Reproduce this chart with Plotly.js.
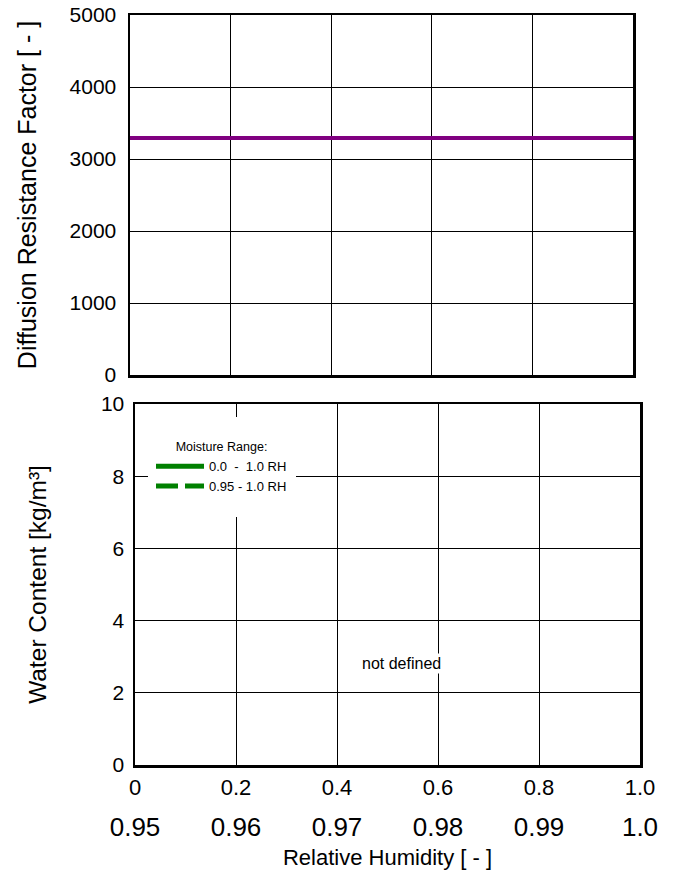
<!DOCTYPE html>
<html>
<head>
<meta charset="utf-8">
<script src="https://cdn.plot.ly/plotly-3.0.1.min.js"></script>
<style>html,body{margin:0;padding:0;background:#fff;}#chart{width:673px;height:876px;}</style>
</head>
<body>
<div id="chart"></div>
<script>
// Top panel: diffusion resistance factor vs relative humidity
var rhTop = [0, 1];
var muValues = [3290, 3290];
// Bottom panel: water content (not defined -> no data points)
var wcRH = [null];
var wcValues = [null];
var wcRH95 = [null];
var wcValues95 = [null];
var seriesNames = ['0.0  -  1.0 RH', '0.95 - 1.0 RH'];
// Tick labels
var muTicks = [0, 1000, 2000, 3000, 4000, 5000];
var wcTicks = [0, 2, 4, 6, 8, 10];
var rhTickVals = [0, 0.2, 0.4, 0.6, 0.8, 1.0];
var rhTickText = ['0', '0.2', '0.4', '0.6', '0.8', '1.0'];
var rh95TickVals = [0.95, 0.96, 0.97, 0.98, 0.99, 1.0];
var rh95TickText = ['0.95', '0.96', '0.97', '0.98', '0.99', '1.0'];

var W = 673, H = 876;
function px(x){return x/W;}
function py(y){return 1 - y/H;}
var FONT = 'Liberation Sans, Arial, sans-serif';

var traces = [
  {x: rhTop, y: muValues, xaxis: 'x', yaxis: 'y', mode: 'lines',
   line: {color: '#800080', width: 4}, showlegend: false, hoverinfo: 'skip'},
  {x: wcRH, y: wcValues, xaxis: 'x2', yaxis: 'y2', mode: 'lines', name: seriesNames[0],
   line: {color: '#008000', width: 5}},
  {x: wcRH95, y: wcValues95, xaxis: 'x3', yaxis: 'y2', mode: 'lines', name: seriesNames[1],
   line: {color: '#008000', width: 5, dash: '22px,7px'}}
];

var axBase = {
  showline: true, mirror: true, linecolor: '#000', linewidth: 2.5,
  showgrid: true, gridcolor: '#000', gridwidth: 1, zeroline: false,
  ticks: '', tickfont: {family: FONT, size: 21, color: '#000'},
  automargin: false, fixedrange: true
};
function ax(extra){ return Object.assign({}, axBase, extra); }

var layout = {
  width: W, height: H,
  margin: {l: 0, r: 0, t: 0, b: 0},
  paper_bgcolor: '#fff', plot_bgcolor: '#fff',
  font: {family: FONT, color: '#000'},
  xaxis: ax({domain: [px(130), px(633)], anchor: 'y', range: [0, 1],
             tickvals: rhTickVals, showticklabels: false}),
  yaxis: ax({domain: [py(375), py(15)], anchor: 'x', range: [0, 5000],
             tickvals: muTicks, ticktext: muTicks.map(String), ticklabelstandoff: 7,
             title: {text: 'Diffusion Resistance Factor [ - ]', font: {family: FONT, size: 25, color: '#000'}, standoff: 26}}),
  xaxis2: ax({domain: [px(135), px(640)], anchor: 'y2', range: [0, 1],
              tickvals: rhTickVals, ticktext: rhTickText, ticklabelstandoff: 1,
              tickfont: {family: FONT, size: 22, color: '#000'}}),
  yaxis2: ax({domain: [py(765), py(404)], anchor: 'x2', range: [0, 10],
              tickvals: wcTicks, ticktext: wcTicks.map(String), ticklabelstandoff: 4,
              title: {text: 'Water Content [kg/m³]', font: {family: FONT, size: 24.5, color: '#000'}, standoff: 48}}),
  xaxis3: {overlaying: 'x2', anchor: 'free', position: py(809), side: 'bottom',
           range: [0.95, 1.0], tickvals: rh95TickVals, ticktext: rh95TickText,
           showline: false, showgrid: false, zeroline: false, ticks: '',
           tickfont: {family: FONT, size: 26, color: '#000'}, automargin: false, fixedrange: true,
           title: {text: 'Relative Humidity [ - ]', font: {family: FONT, size: 22, color: '#000'}, standoff: 8}},
  showlegend: true,
  legend: {
    x: px(151), y: py(435), xanchor: 'left', yanchor: 'top',
    bgcolor: '#fff', borderwidth: 0,
    font: {family: FONT, size: 13, color: '#000'},
    title: {text: 'Moisture Range:', side: 'top center', font: {family: FONT, size: 12.5, color: '#000'}},
    tracegroupgap: 0, itemwidth: 48
  },
  shapes: [
    {type: 'rect', xref: 'paper', yref: 'paper', x0: px(148), x1: px(296), y0: py(517), y1: py(417),
     fillcolor: '#fff', line: {width: 0}, layer: 'above'}
  ],
  annotations: [
    {text: 'not defined', xref: 'x2', yref: 'y2', x: 0.527, y: 2.8, showarrow: false,
     font: {family: FONT, size: 16, color: '#000'}, bgcolor: '#fff', borderpad: 1}
  ]
};

Plotly.newPlot('chart', traces, layout, {displayModeBar: false, staticPlot: true});
</script>
</body>
</html>
